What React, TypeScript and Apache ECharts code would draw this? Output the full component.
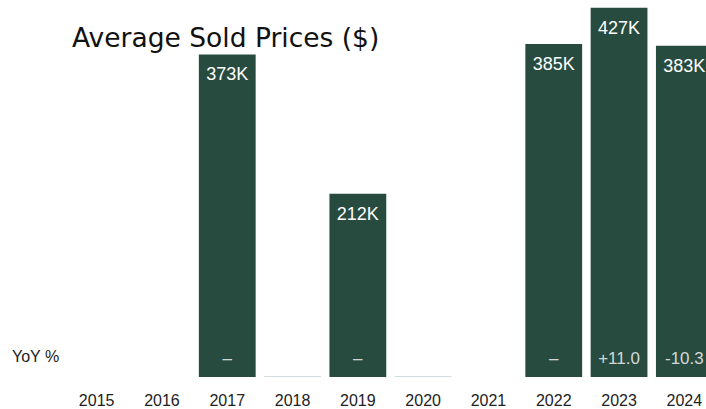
import React, { useEffect, useRef } from "react";
import * as echarts from "echarts";

const years = ["2015", "2016", "2017", "2018", "2019", "2020", "2021", "2022", "2023", "2024"];
const avgPriceK: (number | null)[] = [null, null, 373, 0, 212, 0, null, 385, 427, 383];
const yoyLabels: (string | null)[] = [null, null, "–", null, "–", null, null, "–", "+11.0", "-10.3"];

const BAR = "#284b3f";
const ZERO = "#d3dce1";
const FONT = "'Liberation Sans', Arial, Helvetica, sans-serif";

export default function App() {
  const ref = useRef<HTMLDivElement>(null);
  useEffect(() => {
    document.body.style.margin = "0";
    const chart = echarts.init(ref.current!, undefined, { renderer: "svg" });
    chart.setOption({
      animation: false,
      textStyle: { fontFamily: FONT },
      title: {
        text: "Average Sold Prices ($)",
        left: 67,
        top: 19,
        textStyle: { fontFamily: "'DejaVu Sans', sans-serif", fontSize: 26.5, fontWeight: "normal", color: "#111" },
      },
      graphic: [
        {
          type: "text",
          left: 12,
          top: 348,
          style: { text: "YoY %", fontFamily: FONT, fontSize: 16, fill: "#222" },
        },
      ],
      grid: { left: 64, right: 0, top: 0, bottom: 32, containLabel: false },
      xAxis: {
        type: "category",
        data: years,
        axisLine: { show: false },
        axisTick: { show: false },
        axisLabel: { fontFamily: FONT, fontSize: 16, color: "#222", margin: 15 },
      },
      yAxis: {
        type: "value",
        min: 0,
        max: 436,
        show: false,
        splitLine: { show: false },
      },
      series: [
        {
          type: "bar",
          barCategoryGap: "13%",
          barMinHeight: 1,
          data: avgPriceK.map((v) =>
            v === null
              ? null
              : {
                  value: v,
                  itemStyle: { color: v === 0 ? ZERO : BAR },
                  label: { show: v !== 0 },
                }
          ),
          label: {
            show: true,
            position: "insideTop",
            distance: 11,
            color: "#fff",
            fontFamily: FONT,
            fontSize: 18,
            formatter: (p: any) => `${p.value}K`,
          },
        },
        {
          type: "scatter",
          symbolSize: 0,
          silent: true,
          data: yoyLabels.map((t) => (t === null ? null : { value: 0, label: { formatter: t } })),
          label: {
            show: true,
            position: "top",
            distance: 10,
            color: "#fff",
            fontFamily: FONT,
            fontSize: 17,
          },
          z: 5,
        },
      ],
    });
    return () => chart.dispose();
  }, []);
  return (
    <div style={{ width: 706, height: 409, overflow: "hidden" }}>
      <div ref={ref} style={{ width: 717, height: 409 }} />
    </div>
  );
}
